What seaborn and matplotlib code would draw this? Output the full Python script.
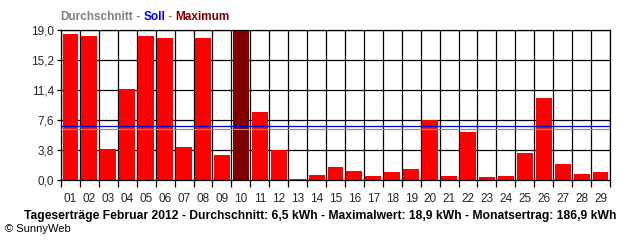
import matplotlib
matplotlib.use("Agg")
import matplotlib.pyplot as plt
import seaborn as sns
import pandas as pd

days = ["01", "02", "03", "04", "05", "06", "07", "08", "09", "10",
        "11", "12", "13", "14", "15", "16", "17", "18", "19", "20",
        "21", "22", "23", "24", "25", "26", "27", "28", "29"]
values = [18.5, 18.25, 3.9, 11.5, 18.25, 18.0, 4.2, 18.0, 3.2, 18.9,
          8.6, 3.85, 0.1, 0.6, 1.65, 1.15, 0.5, 1.0, 1.4, 7.6,
          0.5, 6.1, 0.4, 0.5, 3.4, 10.4, 2.05, 0.75, 1.0]
soll = 6.9
avg = 6.45
yticks = [0.0, 3.8, 7.6, 11.4, 15.2, 19.0]
ytick_labels = ["0,0", "3,8", "7,6", "11,4", "15,2", "19,0"]
title = "Tageserträge Februar 2012 - Durchschnitt: 6,5 kWh - Maximalwert: 18,9 kWh - Monatsertrag: 186,9 kWh"
header_parts = [("Durchschnitt", "#808080"), (" - ", "#808080"), ("Soll", "#0000ff"),
                (" - ", "#808080"), ("Maximum", "#800000")]

sns.set_theme(style="white")
plt.rcParams["font.family"] = ["Liberation Sans", "DejaVu Sans"]

df = pd.DataFrame({"day": days, "value": values})
vmax = max(values)
colors = ["#800000" if v == vmax else "#ff0000" for v in values]

fig = plt.figure(figsize=(6.4, 2.4), dpi=100)
ax = fig.add_axes([61 / 640, 1 - 180 / 240, 549 / 640, 150 / 240])

sns.barplot(data=df, x="day", y="value", hue="day", palette=colors,
            width=0.84, legend=False, ax=ax, saturation=1, linewidth=0, zorder=2)

lw = 0.9
ax.set_ylim(0, 19.0)
ax.set_xlim(-0.5, len(days) - 0.5)
ax.set_yticks(yticks)
ax.set_yticklabels(ytick_labels, fontsize=8.5)
for y in yticks:
    ax.axhline(y, color="black", lw=lw, zorder=1)
for i in range(len(days) + 1):
    ax.axvline(i - 0.5, color="black", lw=lw, zorder=1)
ax.axhline(soll, color="#0000c0", lw=lw, zorder=3)
ax.axhline(avg, color="#909090", lw=lw, zorder=3)

ax.set_xticks([i - 0.5 for i in range(len(days) + 1)], minor=False)
ax.set_xticklabels([])
ax.set_xticks(range(len(days)), minor=True)
ax.set_xticklabels(days, minor=True, fontsize=8.5)
ax.tick_params(axis="x", which="major", length=5, width=lw, color="black", direction="out", bottom=True)
ax.tick_params(axis="x", which="minor", length=0, pad=9)
ax.tick_params(axis="y", length=3, width=lw, color="black", direction="out", left=True, pad=2)
ax.set_xlabel("")
ax.set_ylabel("")
for s in ax.spines.values():
    s.set_visible(True)
    s.set_color("black")
    s.set_linewidth(lw)

renderer = fig.canvas.get_renderer()

# colored header, fitted to reference width (60 -> 230 px)
fs = 9.0
def header_width(size):
    w = 0
    for txt, col in header_parts:
        t = fig.text(0, 0, txt, fontsize=size, fontweight="bold")
        w += t.get_window_extent(renderer=renderer).width
        t.remove()
    return w
fs = fs * 170 / header_width(fs)
x = 60
for txt, col in header_parts:
    t = fig.text(x / 640, 1 - 17 / 240, txt, color=col, fontsize=fs,
                 fontweight="bold", va="center", ha="left")
    x += t.get_window_extent(renderer=renderer).width

tt = fig.text(320 / 640, 1 - 216 / 240, title, fontsize=9, fontweight="bold",
              ha="center", va="center", color="black")
w = tt.get_window_extent(renderer=renderer).width
tt.set_fontsize(9 * 593 / w)
fig.text(5 / 640, 1 - 229 / 240, "© SunnyWeb", fontsize=8, ha="left", va="center", color="black")

fig.savefig("out.png", dpi=100)
